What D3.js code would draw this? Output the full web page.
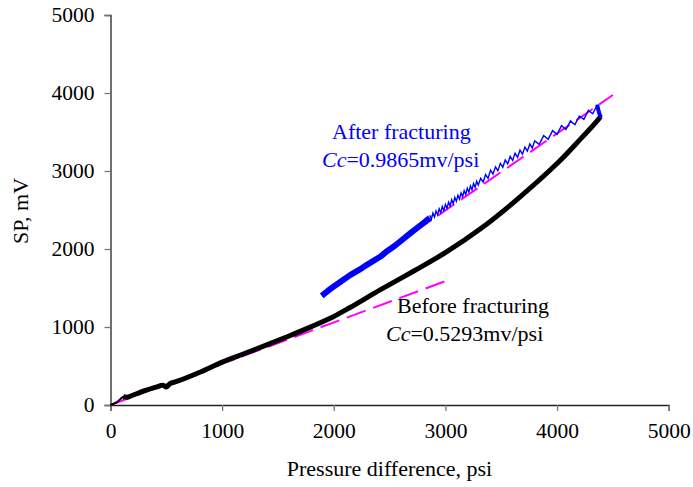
<!DOCTYPE html>
<html><head><meta charset="utf-8">
<script src="https://cdn.jsdelivr.net/npm/d3@7"></script>
<style>
html,body{margin:0;padding:0;background:#fff;}
svg text{font-family:"Liberation Serif","Times New Roman",serif;}
</style></head>
<body>
<svg id="chart" width="693" height="487"></svg>
<script>
// ---- data ----
const xTicks = [0, 1000, 2000, 3000, 4000, 5000];
const yTicks = [0, 1000, 2000, 3000, 4000, 5000];

// Before fracturing (black)
const beforeP  = [0, 60, 115, 150, 200, 300, 400, 470, 500, 535, 600, 800, 1000, 1200, 1400, 1600, 1800, 2000, 2146, 2415, 2713, 3013, 3311, 3609, 4007, 4207, 4357, 4390];
const beforeSP = [0, 40, 105, 100, 125, 180, 225, 252, 232, 275, 305, 420, 550, 660, 770, 885, 1005, 1135, 1250, 1475, 1715, 1965, 2255, 2595, 3105, 3405, 3640, 3700];

// After fracturing (blue) - dense band part
const afterBandP  = [1892, 1950, 2000, 2080, 2146, 2230, 2300, 2415, 2480, 2550, 2684, 2800, 2860];
const afterBandSP = [1400, 1465, 1520, 1600, 1665, 1735, 1800, 1900, 1975, 2045, 2200, 2330, 2400];

// After fracturing (blue) - oscillating part
const afterZigP = [2860, 2874, 2888, 2902, 2916, 2930, 2944, 2958, 2972, 2986, 3000, 3014, 3028, 3042, 3056, 3070, 3084, 3098, 3112, 3126, 3140, 3154, 3168, 3182, 3196, 3210, 3224, 3238, 3252, 3266, 3280, 3294,
  3316, 3338, 3360, 3382, 3404, 3426, 3448, 3470, 3492, 3514, 3536, 3558, 3580, 3602, 3624, 3646, 3668, 3690, 3712, 3734, 3756, 3778, 3800,
  3840, 3880, 3920, 3960, 4000, 4040, 4080, 4120, 4160, 4200, 4240, 4280, 4320, 4360];
const afterZigSP = [2432, 2382, 2460, 2410, 2488, 2438, 2516, 2466, 2544, 2494, 2572, 2523, 2601, 2552, 2631, 2581, 2660, 2611, 2690, 2640, 2719, 2670, 2748, 2699, 2778, 2729, 2808, 2760, 2839, 2791, 2870, 2821,
  2906, 2858, 2954, 2906, 3010, 2960, 3054, 3004, 3098, 3048, 3142, 3092, 3186, 3136, 3228, 3175, 3267, 3215, 3307, 3255, 3346, 3294, 3386,
  3342, 3454, 3406, 3518, 3470, 3581, 3532, 3643, 3594, 3705, 3661, 3777, 3734, 3850];
// end of the after-fracturing record
const afterEndP  = [4360, 4368, 4380, 4392];
const afterEndSP = [3850, 3790, 3730, 3690];

// Linear fits (magenta dashed)
const fitBeforeP  = [0, 3000];
const fitBeforeSP = [0, 1588];
const fitAfterP   = [1900, 4500];
const fitAfterSP  = [1409, 3974];

// ---- chart ----
const svg = d3.select("#chart");
const x = d3.scaleLinear().domain([0, 5000]).range([110.5, 668.7]);
const y = d3.scaleLinear().domain([0, 5000]).range([405, 15]);
const zip = (a, b) => a.map((v, i) => [v, b[i]]);
const line = d3.line().x(d => x(d[0])).y(d => y(d[1]));
const curve = d3.line().x(d => x(d[0])).y(d => y(d[1])).curve(d3.curveCatmullRom);

// axes
const xAxis = svg.append("g").attr("transform", "translate(0,405)")
  .call(d3.axisBottom(x).tickValues(xTicks).tickSize(6).tickPadding(8).tickFormat(d3.format("d")));
const yAxis = svg.append("g").attr("transform", "translate(110.5,0)")
  .call(d3.axisLeft(y).tickValues(yTicks).tickSize(6).tickPadding(10).tickFormat(d3.format("d")));
[xAxis, yAxis].forEach(g => {
  g.select(".domain").attr("stroke", "#222").attr("stroke-width", 1.3);
  g.selectAll(".tick line").attr("stroke", "#777").attr("stroke-width", 1.3);
  g.selectAll(".tick text").attr("font-size", 21.5).attr("fill", "#000")
    .style("font-family", '"Liberation Serif","Times New Roman",serif');
});
xAxis.selectAll(".tick text").attr("dy", "0.9em");

// fit lines
svg.append("path").attr("d", line(zip(fitBeforeP, fitBeforeSP)))
  .attr("fill", "none").attr("stroke", "#ff00ff").attr("stroke-width", 2).attr("stroke-dasharray", "20,8");
svg.append("path").attr("d", line(zip(fitAfterP, fitAfterSP)))
  .attr("fill", "none").attr("stroke", "#ff00ff").attr("stroke-width", 2).attr("stroke-dasharray", "20,8");

// before fracturing
svg.append("path").attr("d", curve(zip(beforeP.slice(0, 4), beforeSP.slice(0, 4))))
  .attr("fill", "none").attr("stroke", "#000").attr("stroke-width", 2);
svg.append("path").attr("d", curve(zip(beforeP.slice(2), beforeSP.slice(2))))
  .attr("fill", "none").attr("stroke", "#000").attr("stroke-width", 5);

// after fracturing
svg.append("path").attr("d", line(zip(afterBandP, afterBandSP)))
  .attr("fill", "none").attr("stroke", "#0000ff").attr("stroke-width", 6).attr("stroke-linejoin", "round");
svg.append("path").attr("d", line(zip(afterZigP, afterZigSP)))
  .attr("fill", "none").attr("stroke", "#0000ff").attr("stroke-width", 1.4);
svg.append("path").attr("d", line(zip(afterEndP, afterEndSP)))
  .attr("fill", "none").attr("stroke", "#0000ff").attr("stroke-width", 4);

// annotations
const ann = (tx, ty, color, parts) => {
  const t = svg.append("text").attr("x", tx).attr("y", ty).attr("font-size", 22).attr("fill", color);
  parts.forEach(p => t.append("tspan").attr("font-style", p[1] ? "italic" : "normal").text(p[0]));
};
ann(332, 139, "#0000ff", [["After fracturing", false]]);
ann(322, 167, "#0000ff", [["Cc", true], ["=0.9865mv/psi", false]]);
ann(397, 313, "#000", [["Before fracturing", false]]);
ann(386, 341, "#000", [["Cc", true], ["=0.5293mv/psi", false]]);

// axis titles
svg.append("text").attr("x", 389.5).attr("y", 476).attr("text-anchor", "middle")
  .attr("font-size", 22).text("Pressure difference, psi");
svg.append("text").attr("transform", "translate(28,211) rotate(-90)").attr("text-anchor", "middle")
  .attr("font-size", 22).text("SP, mV");
</script>
</body></html>
